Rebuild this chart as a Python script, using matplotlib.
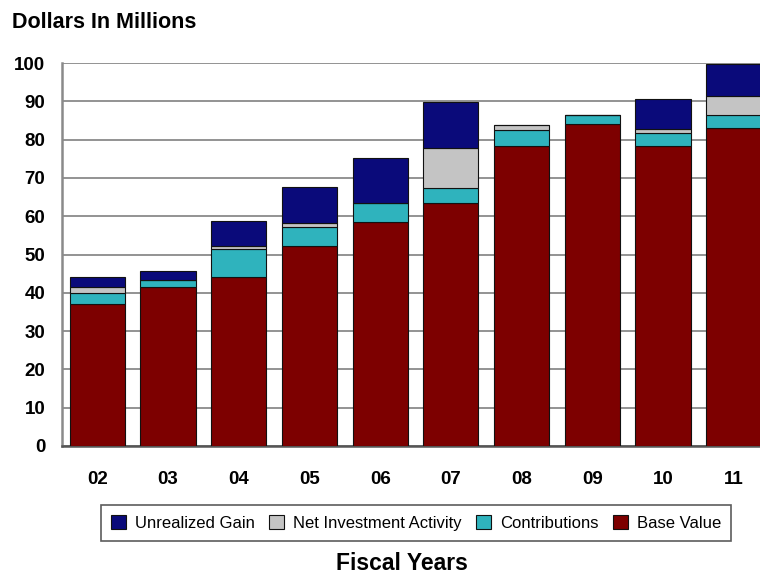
import matplotlib
matplotlib.use("Agg")
import matplotlib.pyplot as plt
import numpy as np

# Fiscal years and stacked components (dollars in millions)
years = ["02", "03", "04", "05", "06", "07", "08", "09", "10", "11"]
base_value = [37.0, 41.5, 44.0, 52.3, 58.5, 63.4, 78.3, 84.0, 78.3, 83.0]
contributions = [3.0, 1.8, 7.5, 5.0, 5.0, 4.0, 4.2, 2.5, 3.4, 3.4]
net_investment = [1.5, 0.0, 0.8, 0.8, 0.0, 10.4, 1.3, 0.0, 1.0, 5.0]
unrealized_gain = [2.5, 2.4, 6.4, 9.5, 11.7, 12.0, 0.0, 0.0, 7.9, 8.3]
y_ticks = [0, 10, 20, 30, 40, 50, 60, 70, 80, 90, 100]

plt.rcParams["font.family"] = ["Liberation Sans", "DejaVu Sans"]

W, H = 760, 575
fig = plt.figure(figsize=(W / 100, H / 100), dpi=100)
ax_left, ax_right = 62, 769
ax_bottom, ax_top = 446, 63
ax = fig.add_axes([ax_left / W, (H - ax_bottom) / H,
                   (ax_right - ax_left) / W, (ax_bottom - ax_top) / H])

x = np.arange(len(years))
width = 0.78
edge = dict(edgecolor="#111111", linewidth=0.8)

series = [
    ("Base Value", base_value, "#7d0000"),
    ("Contributions", contributions, "#2fb3bd"),
    ("Net Investment Activity", net_investment, "#c4c4c4"),
    ("Unrealized Gain", unrealized_gain, "#0a0a7a"),
]
bottom = np.zeros(len(years))
handles = {}
for name, vals, col in series:
    vals = np.array(vals)
    b = ax.bar(x, vals, width, bottom=bottom, color=col, zorder=3, label=name, **edge)
    handles[name] = b
    bottom += vals

ax.set_xlim(-0.5, len(years) - 0.5)
ax.set_ylim(0, 100)
ax.set_yticks(y_ticks)
ax.set_yticklabels([str(v) for v in y_ticks], fontsize=13.5, fontweight="bold")
ax.set_xticks(x)
ax.set_xticklabels(years, fontsize=13.5, fontweight="bold")
ax.tick_params(axis="y", length=0, pad=12)
ax.tick_params(axis="x", length=0, pad=18)
ax.grid(axis="y", color="#8a8a8a", linewidth=1.3, zorder=0)
for s in ["top", "right"]:
    ax.spines[s].set_visible(False)
ax.spines["left"].set_color("#8a8a8a")
ax.spines["left"].set_linewidth(1.8)
ax.spines["bottom"].set_color("#555555")
ax.spines["bottom"].set_linewidth(1.8)

fig.text(12 / W, 1 - 23 / H, "Dollars In Millions", fontsize=15.5, fontweight="bold",
         va="center", ha="left")
fig.text(402 / W, 1 - 563 / H, "Fiscal Years", fontsize=16.5, fontweight="bold",
         va="center", ha="center")

order = ["Unrealized Gain", "Net Investment Activity", "Contributions", "Base Value"]
leg = fig.legend([handles[n] for n in order], order, loc="center",
                 bbox_to_anchor=(416 / W, 1 - 523 / H), ncol=4, fontsize=12,
                 frameon=True, fancybox=False, edgecolor="#333333",
                 handlelength=0.9, handleheight=0.9, handletextpad=0.5,
                 columnspacing=0.9, borderpad=0.6)
leg.get_frame().set_linewidth(1.2)

fig.savefig("out.png", dpi=100)
